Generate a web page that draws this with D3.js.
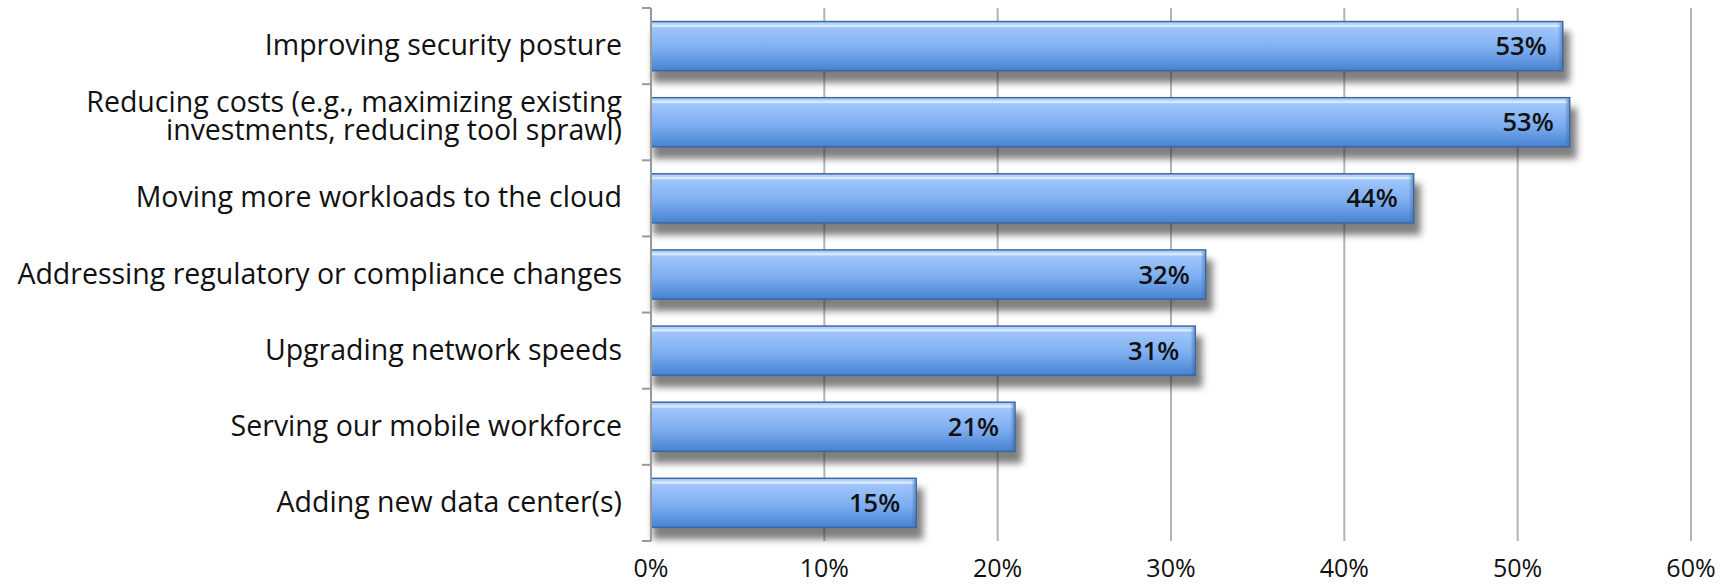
<!DOCTYPE html>
<html>
<head>
<meta charset="utf-8">
<script src="https://cdn.jsdelivr.net/npm/d3@7"></script>
<style>
  body { margin: 0; background: #fff; }
  svg { display: block; }
</style>
</head>
<body>
<div id="chart"></div>
<script>
const categories = [
    ["Improving security posture"],
    ["Reducing costs (e.g., maximizing existing", "investments, reducing tool sprawl)"],
    ["Moving more workloads to the cloud"],
    ["Addressing regulatory or compliance changes"],
    ["Upgrading network speeds"],
    ["Serving our mobile workforce"],
    ["Adding new data center(s)"]
];
const values = [52.6, 53.0, 44.0, 32.0, 31.4, 21.0, 15.3];
const valueLabels = ["53%", "53%", "44%", "32%", "31%", "21%", "15%"];
const ticks = [0, 10, 20, 30, 40, 50, 60];

const width = 1734, height = 585;
const margin = { top: 8, right: 43, bottom: 44, left: 651 };
const fontFam = "'Open Sans', 'DejaVu Sans', sans-serif";
const lineGap = 28.5;

const svg = d3.select("#chart")
    .append("svg")
    .attr("width", width)
    .attr("height", height);

const defs = svg.append("defs");

const grad = defs.append("linearGradient")
    .attr("id", "barGrad")
    .attr("x1", 0).attr("y1", 0).attr("x2", 0).attr("y2", 1);
grad.append("stop").attr("offset", "0%").attr("stop-color", "#b9d6fb");
grad.append("stop").attr("offset", "12%").attr("stop-color", "#a0c6fb");
grad.append("stop").attr("offset", "55%").attr("stop-color", "#7eaef0");
grad.append("stop").attr("offset", "100%").attr("stop-color", "#4782d2");

const endGrad = defs.append("linearGradient")
    .attr("id", "endGrad")
    .attr("x1", 0).attr("y1", 0).attr("x2", 1).attr("y2", 0);
endGrad.append("stop").attr("offset", "0%").attr("stop-color", "#3f6fae").attr("stop-opacity", 0);
endGrad.append("stop").attr("offset", "100%").attr("stop-color", "#3f6fae").attr("stop-opacity", 0.55);

defs.append("filter")
    .attr("id", "blur")
    .attr("x", "-20%").attr("y", "-60%")
    .attr("width", "140%").attr("height", "220%")
    .append("feGaussianBlur")
    .attr("stdDeviation", 3.5);

const ids = d3.range(categories.length);

const x = d3.scaleLinear()
    .domain([0, 60])
    .range([margin.left, width - margin.right]);

const y = d3.scaleBand()
    .domain(ids)
    .range([margin.top, height - margin.bottom])
    .paddingInner(0.355)
    .paddingOuter(0.178);

// grid lines
svg.append("g")
    .selectAll("line")
    .data(ticks.slice(1))
    .enter()
    .append("line")
    .attr("x1", d => x(d)).attr("x2", d => x(d))
    .attr("y1", margin.top).attr("y2", height - margin.bottom)
    .attr("stroke", "#b3b3b3")
    .attr("stroke-width", 2);

// shadows
svg.append("g")
    .selectAll("rect")
    .data(ids)
    .enter()
    .append("rect")
    .attr("x", x(0) + 2)
    .attr("y", i => y(i) + 10)
    .attr("width", i => x(values[i]) - x(0) + 5)
    .attr("height", y.bandwidth() + 2)
    .attr("fill", "#333")
    .attr("opacity", 0.62)
    .attr("filter", "url(#blur)");

// bars
const bars = svg.append("g")
    .selectAll("g")
    .data(ids)
    .enter()
    .append("g");

bars.append("rect")
    .attr("x", x(0))
    .attr("y", i => y(i))
    .attr("width", i => x(values[i]) - x(0))
    .attr("height", y.bandwidth())
    .attr("fill", "url(#barGrad)")
    .attr("stroke", "#3a67a0")
    .attr("stroke-width", 1.5);

bars.append("rect")
    .attr("x", x(0) + 1)
    .attr("y", i => y(i) + 3)
    .attr("width", i => x(values[i]) - x(0) - 3)
    .attr("height", 2.5)
    .attr("fill", "#dcecff")
    .attr("opacity", 0.9);

bars.append("rect")
    .attr("x", i => x(values[i]) - 5)
    .attr("y", i => y(i) + 1)
    .attr("width", 4)
    .attr("height", y.bandwidth() - 2)
    .attr("fill", "url(#endGrad)");

bars.append("text")
    .attr("x", i => x(values[i]) - 16)
    .attr("y", i => y(i) + y.bandwidth() / 2 + 9)
    .attr("text-anchor", "end")
    .attr("font-family", fontFam)
    .attr("font-weight", 600)
    .attr("font-size", "25.5px")
    .attr("fill", "#111")
    .text(i => valueLabels[i]);

// y axis line and ticks
const yAxis = svg.append("g");
yAxis.append("line")
    .attr("x1", x(0)).attr("x2", x(0))
    .attr("y1", margin.top).attr("y2", height - margin.bottom)
    .attr("stroke", "#999")
    .attr("stroke-width", 2);

const bounds = ids.map(i => y(i) - y.step() * y.paddingInner() / 2).concat([height - margin.bottom]);
bounds[0] = margin.top;
yAxis.selectAll("line.tick")
    .data(bounds)
    .enter()
    .append("line")
    .attr("class", "tick")
    .attr("x1", x(0) - 9).attr("x2", x(0))
    .attr("y1", d => d).attr("y2", d => d)
    .attr("stroke", "#999")
    .attr("stroke-width", 2);

// category labels
const labels = svg.append("g")
    .selectAll("text")
    .data(ids)
    .enter()
    .append("text")
    .attr("text-anchor", "end")
    .attr("font-family", fontFam)
    .attr("font-size", "28.5px")
    .attr("fill", "#111")
    .attr("transform", i => {
        const n = categories[i].length;
        const cy = y(i) + y.bandwidth() / 2 + 9 - (n - 1) * 19.25;
        return `translate(${x(0) - 29},${cy})`;
    });

labels.selectAll("tspan")
    .data(i => categories[i])
    .enter()
    .append("tspan")
    .attr("x", 0)
    .attr("dy", (d, j) => j === 0 ? 0 : lineGap)
    .text(d => d);

// x tick labels
svg.append("g")
    .selectAll("text")
    .data(ticks)
    .enter()
    .append("text")
    .attr("x", d => x(d))
    .attr("y", 577)
    .attr("text-anchor", "middle")
    .attr("font-family", fontFam)
    .attr("font-size", "25px")
    .attr("fill", "#111")
    .text(d => d + "%");
</script>
</body>
</html>
